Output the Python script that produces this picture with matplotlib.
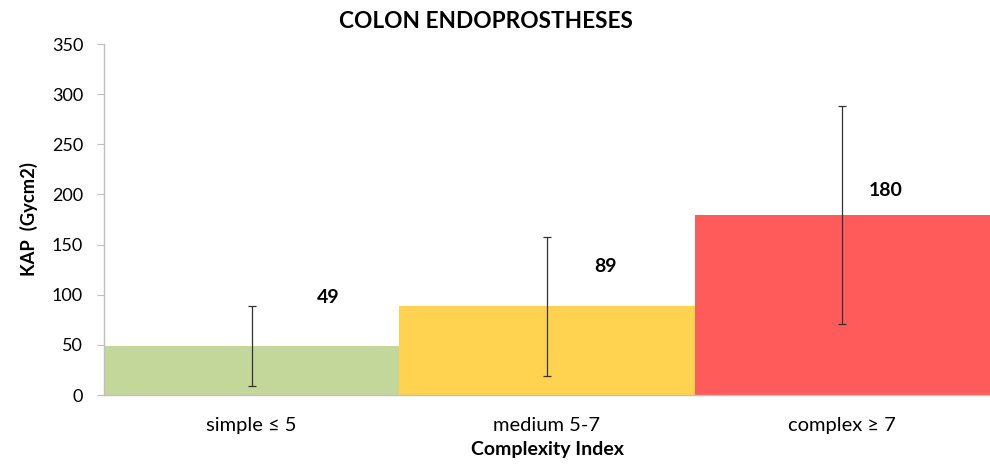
import matplotlib
matplotlib.use("Agg")
import matplotlib.pyplot as plt

categories = ["simple ≤ 5", "medium 5-7", "complex ≥ 7"]
values = [49, 89, 180]
err_low = [9, 19, 71]
err_high = [89, 158, 288]
labels = ["49", "89", "180"]
colors = ["#C4D79B", "#FFD34F", "#FF5B5B"]

plt.rcParams['font.family'] = ['Lato', 'DejaVu Sans']

fig = plt.figure(figsize=(9.9, 4.65), dpi=100)
ax = fig.add_axes([0.105, 0.1505, 0.895, 0.7548])

x = list(range(len(categories)))
ax.bar(x, values, width=1.0, color=colors, edgecolor='none', zorder=2)
yerr = [[v - lo for v, lo in zip(values, err_low)], [hi - v for v, hi in zip(values, err_high)]]
ax.errorbar(x, values, yerr=yerr, fmt='none', ecolor='#333333', elinewidth=0.9,
            capsize=3, capthick=0.9, zorder=3)

label_dx = [0.26, 0.197, 0.146]
label_y = [97, 128, 204]
for xi, lab, dx, ly in zip(x, labels, label_dx, label_y):
    ax.text(xi + dx, ly, lab, ha='center', va='center', fontsize=14, fontweight='bold', color='black')

ax.set_xlim(-0.5, 2.5)
ax.set_ylim(0, 350)
ax.set_yticks(range(0, 351, 50))
ax.set_xticks(x)
ax.set_xticklabels(categories, fontsize=14.5)
ax.tick_params(axis='y', labelsize=13, length=5, color='#BFBFBF', direction='out', pad=10)
ax.tick_params(axis='x', length=0, pad=16)
for s in ['top', 'right']:
    ax.spines[s].set_visible(False)
for s in ['left', 'bottom']:
    ax.spines[s].set_color('#BFBFBF')
    ax.spines[s].set_linewidth(1.0)

fig.text(486 / 990, 1 - 21 / 465, "COLON ENDOPROSTHESES", ha='center', va='center',
         fontsize=16.3, fontweight='bold')
ax.set_ylabel("KAP  (Gycm2)", fontsize=13.2, fontweight='bold', labelpad=10)
ax.set_xlabel("Complexity Index", fontsize=14, fontweight='bold', labelpad=5)

fig.savefig("out.png", dpi=100)
